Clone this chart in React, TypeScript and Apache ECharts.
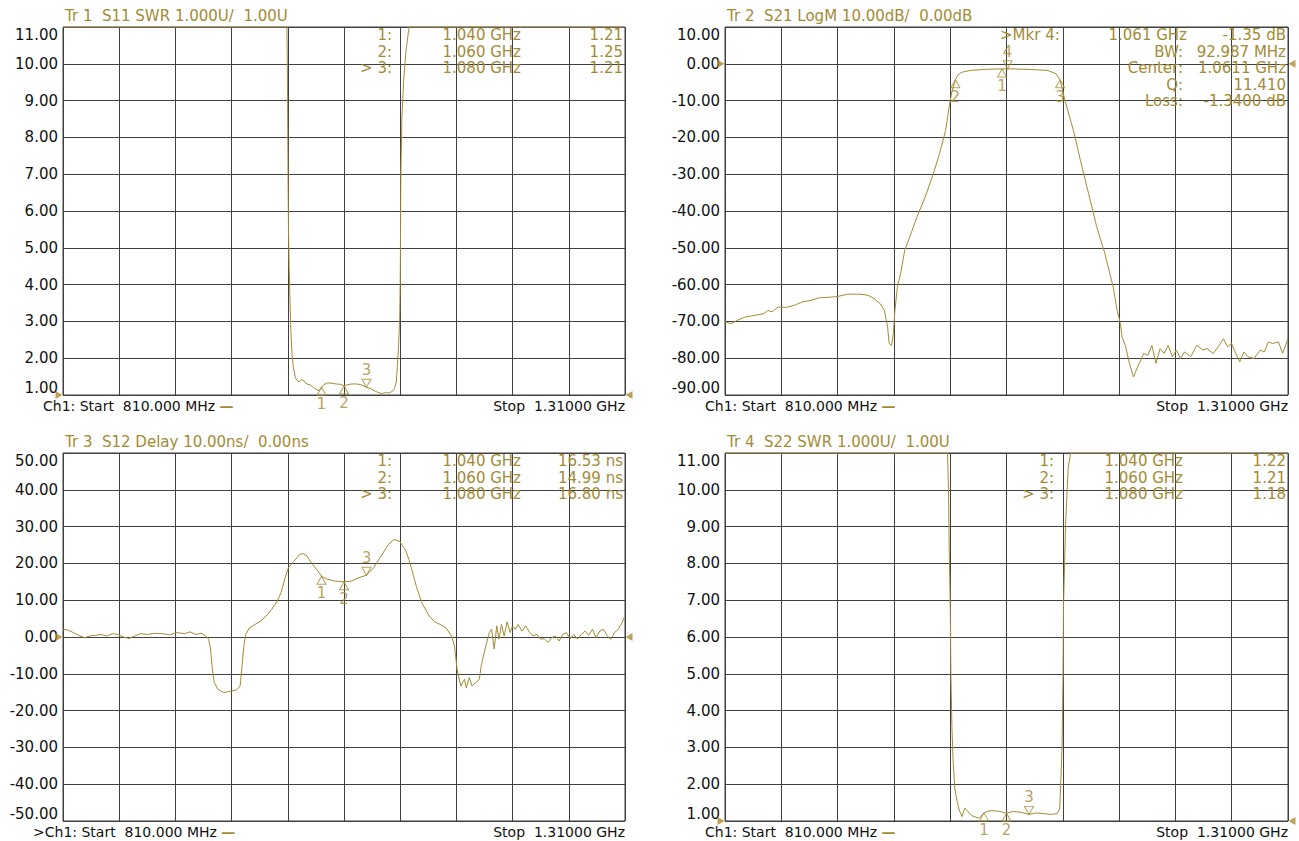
import React, { useEffect, useRef } from "react";
import * as echarts from "echarts";

// ---------- data ----------
const START_MHZ = 810;
const STOP_MHZ = 1310;
const X_DIV_MHZ = 50;

const TR1_TITLE = "Tr 1  S11 SWR 1.000U/  1.00U";
const TR2_TITLE = "Tr 2  S21 LogM 10.00dB/  0.00dB";
const TR3_TITLE = "Tr 3  S12 Delay 10.00ns/  0.00ns";
const TR4_TITLE = "Tr 4  S22 SWR 1.000U/  1.00U";

// [min, max, interval, reference level]
const TR1_Y = [1, 11, 1, 1];
const TR2_Y = [-90, 10, 10, 0];
const TR3_Y = [-50, 50, 10, 0];
const TR4_Y = [1, 11, 1, 1];

const S11_SWR: [number, number][] = [
  [810, 11], [1009.2, 11], [1009.6, 10], [1009.9, 8.5], [1010.2, 7], [1010.6, 5.5], [1011.2, 4.5],
  [1012, 3.5], [1012.8, 2.7], [1013.8, 2.1], [1015, 1.75], [1016.5, 1.5], [1018, 1.4], [1020, 1.36],
  [1022, 1.42], [1024.5, 1.38], [1027, 1.3], [1030, 1.27], [1033, 1.2], [1036, 1.14], [1038, 1.12],
  [1040, 1.21], [1042, 1.28], [1045, 1.33], [1049, 1.32], [1053, 1.3], [1057, 1.29], [1060, 1.25],
  [1063, 1.28], [1067, 1.3], [1071, 1.3], [1075, 1.28], [1080, 1.21], [1084, 1.17], [1088, 1.1],
  [1091, 1.06], [1094, 1.04], [1097, 1.07], [1100, 1.05], [1103, 1.1], [1105, 1.18], [1106.5, 1.35],
  [1107.5, 1.8], [1108.5, 2.3], [1109.5, 3.0], [1110, 4], [1110.3, 5.5], [1110.6, 7], [1111.5, 8.5],
  [1113, 9.5], [1115, 10.3], [1117, 10.8], [1118, 11], [1310, 11],
];

const S21_LOGM: [number, number][] = [
  [810, -70.1], [815.4, -70.6], [820.9, -69.7], [828.1, -68.8], [837.2, -68.3], [844.5, -67.9],
  [848.1, -67], [851.7, -67.4], [857.2, -66.1], [864.4, -66.2], [871.7, -65.6], [878.9, -64.7],
  [886.2, -64.3], [893.4, -63.6], [904.3, -63.4], [910.5, -63.2], [918.8, -62.6], [929.7, -62.6],
  [937, -62.9], [942.4, -63.8], [947.9, -65.2], [951.5, -67], [954.4, -71.5], [955.8, -76],
  [958, -76.5], [959.5, -73.3], [960.9, -67], [963.1, -60.6], [966, -57], [969.6, -50.7],
  [975.1, -46.2], [980.5, -41.6], [987.8, -36.2], [995, -29.9], [1000.5, -24.4], [1005.9, -18.1],
  [1009.5, -10.9], [1011.4, -7.7], [1014.6, -4.35], [1017, -3.0], [1020.4, -2.3], [1027.7, -1.8],
  [1042.2, -1.5], [1061, -1.35], [1078.5, -1.5], [1096.6, -1.8], [1103.9, -2.7], [1107.6, -4.35],
  [1111.1, -9], [1114.8, -13.1], [1120.2, -19], [1125.6, -26.2], [1132.9, -35.3], [1140.1, -44.3],
  [1147.4, -51.6], [1154.7, -60.6], [1158.3, -67], [1161.2, -70.6], [1162.6, -74.2], [1165.5, -76.5],
  [1169.2, -81.4], [1172.8, -85.1], [1176.4, -82.4], [1181.9, -78.7], [1185.5, -79.2], [1189.1, -76.5],
  [1192.8, -81.4], [1196.4, -77.4], [1200, -78.7], [1203.6, -76.5], [1207.3, -79.6], [1210.9, -77.8],
  [1214.5, -80.1], [1218.2, -78.3], [1223.6, -79.6], [1229, -76.5], [1234.5, -77.8], [1238.1, -77.4],
  [1243.6, -78.7], [1249, -76.5], [1252.6, -74.7], [1256.3, -76.9], [1259.9, -76], [1263.5, -78.7],
  [1267.1, -81], [1270.8, -78.3], [1274.4, -79.6], [1279.8, -80.1], [1285.3, -77.8], [1288.9, -78.3],
  [1292.5, -75.6], [1296.2, -76], [1301.6, -75.6], [1305.2, -78.7], [1310, -74.7],
];

const S12_DELAY: [number, number][] = [
  [810, 2.1], [814.3, 1.9], [819.2, 1.2], [824.2, 0.45], [829.1, -0.2], [834.1, 0.3], [839, 0.45],
  [844, 0.7], [848.9, 0.25], [853.9, 0.9], [858.8, 0.7], [863.8, 0], [868.7, -0.4], [873.7, 0.25],
  [878.6, 0.9], [885.2, 0.7], [891.8, 1.0], [898.4, 0.9], [905, 0.6], [911.6, 1.2], [918.2, 0.9],
  [923.1, 1.4], [928.1, 0.7], [933, 1.0], [936.3, 0.45], [939.6, -0.6], [941.3, -3.3], [942.9, -8.8],
  [944.6, -12.4], [947.9, -14.2], [952.8, -15.1], [956.1, -14.9], [959.4, -14.7], [964.3, -14.4],
  [967.6, -13.3], [969.3, -7.9], [970.9, -2.4], [972.6, 0.7], [975.9, 2.5], [980.8, 3.4], [985.8, 4.3],
  [990.7, 5.7], [995.7, 7.5], [1000.6, 9.8], [1003.9, 12], [1007.2, 15.7], [1010.5, 18.8],
  [1015.5, 20.6], [1020.4, 22.4], [1023.7, 22.7], [1027, 22], [1032, 19.7], [1036.9, 17.9],
  [1040, 16.53], [1045.1, 15.7], [1051.7, 15.2], [1060, 14.99], [1066.6, 15.2], [1073.2, 16.1],
  [1080, 16.8], [1086.4, 18.8], [1093, 22], [1099.6, 25.2], [1104.5, 26.5], [1109.5, 26],
  [1114.4, 23.8], [1117.7, 21.1], [1121, 17.5], [1124.3, 13.8], [1129.2, 9.3], [1135.8, 5.7],
  [1140.8, 4.1], [1145.7, 3.4], [1150.7, 2.5], [1155.6, 0.3], [1158.3, -2.4], [1160.6, -8.8],
  [1163.9, -13.3], [1167.2, -11.5], [1168.8, -13.8], [1171.5, -11], [1173.8, -13.3], [1177.1, -12.4],
  [1180.4, -11.5], [1182, -7.9], [1184.7, -4.3], [1187, -1.5], [1189.3, 1.2], [1191.3, 2.1],
  [1193.6, -3.3], [1195.9, 3.0], [1197.8, -0.6], [1200.1, 3.4], [1202.5, 0.3], [1205.1, 4.1],
  [1207.7, 1.2], [1210, 3.0], [1212.3, 2.1], [1215, 3.4], [1218.3, 1.6], [1221.6, 3.0], [1224.9, 1.4],
  [1228.2, 0.3], [1231.5, 0.7], [1234.8, -0.6], [1238.1, -0.45], [1241.4, -1.5], [1244.7, -0.2],
  [1248, 0.3], [1251.3, -1.1], [1254.6, 0.7], [1257.9, 1.2], [1261.3, -0.45], [1264.6, 0.7],
  [1267.8, -0.6], [1271.1, 0.7], [1274.4, 1.6], [1277.7, 0.45], [1281, 2.1], [1284.3, -0.2],
  [1287.6, 1.6], [1290.9, 2.1], [1294.2, 0.3], [1297.5, -0.6], [1300.7, 1.2], [1304, 2.1],
  [1307.3, 3.9], [1310, 5.7],
];

const S22_SWR: [number, number][] = [
  [810, 11], [1007.6, 11], [1008.5, 10], [1009.1, 8.5], [1010.1, 6.7], [1010.6, 5], [1011.5, 3.6],
  [1012.5, 2.7], [1014, 1.9], [1016, 1.55], [1018, 1.3], [1020.5, 1.12], [1023, 1.35], [1026, 1.25],
  [1029, 1.15], [1033, 1.1], [1036, 1.08], [1040, 1.22], [1043.5, 1.27], [1048, 1.28], [1054, 1.26],
  [1060, 1.21], [1066, 1.26], [1072, 1.24], [1080, 1.18], [1087, 1.22], [1093, 1.2], [1099, 1.18],
  [1105, 1.2], [1107.3, 1.33], [1108.5, 2.3], [1109.4, 3.1], [1110.2, 5], [1110.6, 6.8],
  [1112.5, 9.1], [1114.8, 10.6], [1117, 11], [1310, 11],
];

// markers: [label, MHz, value, direction]
const TR1_MARKERS: [string, number, number, string][] = [
  ["1", 1040, 1.21, "up"], ["2", 1060, 1.25, "up"], ["3", 1080, 1.21, "down"],
];
const TR2_MARKERS: [string, number, number, string][] = [
  ["1", 1056, -1.4, "up"], ["2", 1014.6, -4.35, "up"], ["3", 1107.6, -4.35, "up"], ["4", 1061, -1.35, "down"],
];
const TR3_MARKERS: [string, number, number, string][] = [
  ["1", 1040, 16.53, "up"], ["2", 1060, 14.99, "up"], ["3", 1080, 16.8, "down"],
];
const TR4_MARKERS: [string, number, number, string][] = [
  ["1", 1040, 1.22, "up"], ["2", 1060, 1.21, "up"], ["3", 1080, 1.18, "down"],
];

const TR1_TABLE = [["1:", "1.040 GHz", "1.21"], ["2:", "1.060 GHz", "1.25"], ["> 3:", "1.080 GHz", "1.21"]];
const TR2_TABLE = [[">Mkr 4:", "1.061 GHz", "-1.35 dB"], ["", "BW:", "92.987 MHz"], ["", "Center:", "1.0611 GHz"], ["", "Q:", "11.410"], ["", "Loss:", "-1.3400 dB"]];
const TR3_TABLE = [["1:", "1.040 GHz", "16.53 ns"], ["2:", "1.060 GHz", "14.99 ns"], ["> 3:", "1.080 GHz", "16.80 ns"]];
const TR4_TABLE = [["1:", "1.040 GHz", "1.22"], ["2:", "1.060 GHz", "1.21"], ["> 3:", "1.080 GHz", "1.18"]];

const FOOTER_PREFIX = ["Ch1: ", "Ch1: ", ">Ch1: ", "Ch1: "];

// ---------- styles / layout ----------
const TRACE = "#a38b35";
const GRID_C = "#404040";
const REF_C = "#b0882a";
const FONT = "'DejaVu Sans', Verdana, sans-serif";
const FS = 15;
const FS_FOOT = 14;

const PANELS = [
  { left: 63, top: 27, width: 562, height: 368 },
  { left: 725, top: 27, width: 563, height: 368 },
  { left: 63, top: 453, width: 562, height: 368 },
  { left: 725, top: 453, width: 563, height: 368 },
];

function buildOption() {
  const traces = [
    { title: TR1_TITLE, data: S11_SWR, y: TR1_Y, markers: TR1_MARKERS, table: TR1_TABLE },
    { title: TR2_TITLE, data: S21_LOGM, y: TR2_Y, markers: TR2_MARKERS, table: TR2_TABLE },
    { title: TR3_TITLE, data: S12_DELAY, y: TR3_Y, markers: TR3_MARKERS, table: TR3_TABLE },
    { title: TR4_TITLE, data: S22_SWR, y: TR4_Y, markers: TR4_MARKERS, table: TR4_TABLE },
  ];
  const span = STOP_MHZ - START_MHZ;
  const grid: any[] = [];
  const xAxis: any[] = [];
  const yAxis: any[] = [];
  const series: any[] = [];
  const graphic: any[] = [];
  const font = `${FS}px ${FONT}`;
  const footFont = `${FS_FOOT}px ${FONT}`;

  traces.forEach((t, i) => {
    const p = PANELS[i];
    grid.push({ ...p, show: true, borderColor: GRID_C, borderWidth: 1, containLabel: false });
    xAxis.push({
      type: "value", gridIndex: i, min: 0, max: span, interval: X_DIV_MHZ,
      axisLabel: { show: false }, axisTick: { show: false }, axisLine: { show: false },
      splitLine: { show: true, lineStyle: { color: GRID_C, width: 1 } },
    });
    yAxis.push({
      type: "value", gridIndex: i, min: t.y[0], max: t.y[1], interval: t.y[2],
      axisTick: { show: false }, axisLine: { show: false },
      splitLine: { show: true, lineStyle: { color: GRID_C, width: 1 } },
      axisLabel: {
        color: "#111", fontSize: FS, fontFamily: FONT, margin: 5,
        showMinLabel: true, showMaxLabel: true,
        verticalAlignMinLabel: "bottom", verticalAlignMaxLabel: "top",
        formatter: (v: number) => v.toFixed(2),
      },
    });
    series.push({
      type: "line", xAxisIndex: i, yAxisIndex: i, showSymbol: false, silent: true, z: 3,
      data: t.data.map(([f, v]) => [f - START_MHZ, v]),
      lineStyle: { color: TRACE, width: 1 }, itemStyle: { color: TRACE },
    });
    series.push({
      type: "scatter", xAxisIndex: i, yAxisIndex: i, clip: false, silent: true, z: 4,
      symbol: "triangle", symbolSize: [9, 8],
      itemStyle: { color: "rgba(255,255,255,0)", borderColor: TRACE, borderWidth: 1 },
      label: { show: true, formatter: "{b}", color: TRACE, fontSize: FS, fontFamily: FONT, distance: 1 },
      data: t.markers.map(([n, f, v, d]) => ({
        name: n, value: [f - START_MHZ, v],
        symbolRotate: d === "down" ? 180 : 0,
        symbolOffset: [0, d === "down" ? -4 : 4],
        label: { position: d === "down" ? "top" : "bottom" },
      })),
    });
    series.push({
      type: "scatter", xAxisIndex: i, yAxisIndex: i, clip: false, silent: true, z: 5,
      symbol: "triangle", symbolSize: [8, 7], itemStyle: { color: REF_C },
      data: [
        { value: [0, t.y[3]], symbolRotate: -90, symbolOffset: [-4, 0] },
        { value: [span, t.y[3]], symbolRotate: 90, symbolOffset: [4, 0] },
      ],
    });

    // title
    graphic.push({
      type: "text", x: p.left + 2, y: p.top - 11, silent: true,
      style: { text: t.title, fill: TRACE, font, align: "left", verticalAlign: "middle" },
    });
    // footer
    graphic.push({
      type: "text", x: p.left - 20 - (FOOTER_PREFIX[i].length - 5) * 10, y: p.top + p.height + 11, silent: true,
      style: {
        text: `{a|${FOOTER_PREFIX[i]}Start  ${START_MHZ.toFixed(3)} MHz }{b|—}`,
        font: footFont, fill: "#111", align: "left", verticalAlign: "middle",
        rich: {
          a: { fill: "#111", fontSize: FS_FOOT, fontFamily: FONT },
          b: { fill: TRACE, fontSize: FS_FOOT, fontFamily: FONT, fontWeight: "bold" },
        },
      },
    });
    graphic.push({
      type: "text", x: p.left + p.width, y: p.top + p.height + 11, silent: true,
      style: { text: `Stop  ${(STOP_MHZ / 1000).toFixed(5)} GHz`, font: footFont, fill: "#111", align: "right", verticalAlign: "middle" },
    });
    // marker table
    const colX = [p.left + 329, p.left + 458, p.left + p.width - 2];
    t.table.forEach((row, r) => {
      const y = p.top + 8 + r * 16.5;
      row.forEach((cell, c) => {
        if (!cell) return;
        let x = colX[c];
        let align = "right";
        if (i === 1 && c === 0) { x = p.left + 275; align = "left"; }
        if (i === 1 && c === 1 && r === 0) { x = p.left + 462; }
        graphic.push({
          type: "text", x, y, silent: true, z: 10,
          style: { text: cell, fill: TRACE, font, align, verticalAlign: "middle" },
        });
      });
    });
  });

  return {
    animation: false,
    backgroundColor: "#ffffff",
    grid, xAxis, yAxis, series, graphic,
  };
}

export default function App() {
  const ref = useRef<HTMLDivElement>(null);
  useEffect(() => {
    if (!ref.current) return;
    const chart = echarts.init(ref.current, undefined, { renderer: "svg" });
    chart.setOption(buildOption() as any);
    return () => chart.dispose();
  }, []);
  return (
    <div
      ref={ref}
      style={{ position: "absolute", left: 0, top: 0, width: 1299, height: 841, background: "#fff" }}
    />
  );
}
